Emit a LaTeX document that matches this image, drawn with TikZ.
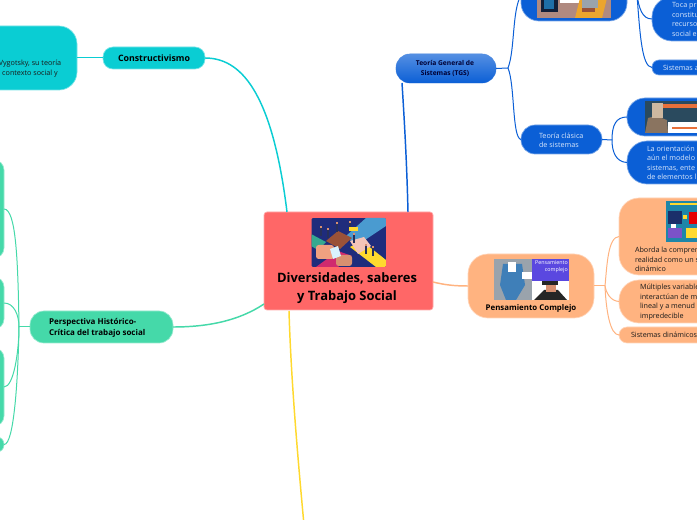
\documentclass[tikz,border=0pt]{standalone}
\usepackage{fontspec}
\setmainfont{Open Sans}
\definecolor{cred}{HTML}{FF6767}
\definecolor{cblue}{HTML}{0B5FD6}
\definecolor{cpeach}{HTML}{FFB380}
\definecolor{ccyan}{HTML}{0ACDD3}
\definecolor{cgreen}{HTML}{45D9A9}
\definecolor{cyel}{HTML}{FFD92E}
\definecolor{lblue}{HTML}{D8E6FB}
\definecolor{dtext}{HTML}{1A1A1A}
\definecolor{navy}{HTML}{1F2C7C}
\definecolor{skyb}{HTML}{4A9BD0}
\definecolor{brk}{HTML}{9A5238}
\definecolor{tealb}{HTML}{35A890}
\definecolor{salm}{HTML}{F0A080}
\definecolor{pinkl}{HTML}{F3C4B8}
\definecolor{mage}{HTML}{D02A6E}
\definecolor{dfig}{HTML}{27305A}
\definecolor{skin}{HTML}{D89070}
\definecolor{rosy}{HTML}{B08A80}
\definecolor{dkb}{HTML}{12203A}
\definecolor{midb}{HTML}{1F6FA8}
\definecolor{ora}{HTML}{EBA52E}
\definecolor{slate}{HTML}{2A4A5E}
\definecolor{sep}{HTML}{8A7460}
\definecolor{sepl}{HTML}{CDB8A0}
\definecolor{oran}{HTML}{E8703A}
\definecolor{steel}{HTML}{9AA3AC}
\definecolor{mblue}{HTML}{3F7FB8}
\definecolor{viol}{HTML}{5A48E0}
\definecolor{teald}{HTML}{1F86A8}
\definecolor{navd}{HTML}{1B2F6A}
\definecolor{purp}{HTML}{7B52C8}
\newcommand{\bx}[7]{\node[rectangle,inner sep=0pt,outer sep=0pt,draw=#7!55!white,line width=.5pt,fill=#7,rounded corners=#6*0.75pt,
  minimum width={(#4-#2)*0.75pt},minimum height={(#5-#3)*0.75pt}] (#1) at ({(#2+#4)/2},{(#3+#5)/2}) {};}
\tikzset{
  x=0.75pt,y=-0.75pt,
  lab/.style={inner sep=0pt,outer sep=0pt,align=left,anchor=west,text=dtext,font=\fontsize{5.4}{7.1}\selectfont},
  labw/.style={lab,text=lblue},
  main/.style={line width=1.1pt},
  sub/.style={line width=.75pt},
}
\begin{document}
\begin{tikzpicture}
\useasboundingbox (0,0) rectangle (697,520);
\clip (0,0) rectangle (697,520);
\fill[white] (0,0) rectangle (697,520);
% boxes
\bx{cen}{264}{212}{433}{310}{3}{cred}
\bx{tgs}{396}{54}{496}{83}{14}{cblue}
\bx{ti}{521}{-30}{627}{21}{18}{cblue}
\bx{tr}{652}{-3}{780}{41}{20}{cblue}
\bx{sa}{652}{60}{780}{75}{7}{cblue}
\bx{tc}{521}{125}{602}{154}{14}{cblue}
\bx{du}{627}{98}{780}{136}{18}{cblue}
\bx{lo}{627}{141}{780}{184}{20}{cblue}
\bx{pc}{468}{254}{594}{318}{20}{cpeach}
\bx{ab}{619}{198}{780}{275}{20}{cpeach}
\bx{mu}{619}{280}{780}{323}{20}{cpeach}
\bx{sd}{619}{327}{780}{343}{8}{cpeach}
\bx{con}{103}{47}{205}{69}{10}{ccyan}
\bx{vy}{-60}{26}{77}{90}{18}{ccyan}
\bx{per}{30}{311}{173}{343}{14}{cgreen}
\bx{g1}{-60}{160}{4}{258}{10}{cgreen}
\bx{g2}{-60}{277}{4}{329}{10}{cgreen}
\bx{g3}{-60}{348}{4}{426}{10}{cgreen}
\bx{g4}{-60}{437}{4}{452}{7}{cgreen}
\shade[top color=cblue!70!white,bottom color=cblue,rounded corners=10.5pt] (396,54) rectangle (496,83);
% fork points and free ends
\coordinate (fa) at (508,68);
\coordinate (fb) at (637,-5);
\coordinate (fc) at (612,140);
\coordinate (fd) at (605,286);
\coordinate (fe) at (19,327);
\coordinate (ye) at (304,525);
% connectors
\draw[cblue,main] (402,83) .. controls (405,130) and (407,170) .. (408,212);
\draw[cblue,sub] (tgs.east) -- (fa);
\draw[cblue,sub] (fa) .. controls (515,50) and (512,10) .. (ti.west);
\draw[cblue,sub] (fa) .. controls (515,85) and (512,138) .. (tc.west);
\draw[cblue,sub] (fb) .. controls (639,8) and (642,19) .. (tr.west);
\draw[cblue,sub] (fb) .. controls (640,35) and (642,67) .. (sa.west);
\draw[cblue,sub] (tc.east) -- (fc);
\draw[cblue,sub] (fc) .. controls (612,125) and (616,117) .. (du.west);
\draw[cblue,sub] (fc) .. controls (612,152) and (616,162) .. (lo.west);
\draw[cpeach,main] (433,282) .. controls (445,285) and (455,286) .. (pc.west);
\draw[cpeach,sub] (pc.east) -- (fd);
\draw[cpeach,sub] (fd) .. controls (607,265) and (608,237) .. (ab.west);
\draw[cpeach,sub] (fd) .. controls (606,292) and (610,301) .. (mu.west);
\draw[cpeach,sub] (fd) .. controls (606,310) and (610,335) .. (sd.west);
\draw[ccyan,main] (con.east) .. controls (240,58) and (272,90) .. (287,212);
\draw[ccyan,sub] (vy.east |- con.west) -- (con.west);
\draw[cgreen,main] (per.east) .. controls (210,327) and (240,320) .. (264,304);
\draw[cgreen,sub] (per.west) -- (fe);
\draw[cgreen,sub] (fe) .. controls (18,260) and (16,209) .. (g1.east);
\draw[cgreen,sub] (fe) .. controls (19,315) and (14,303) .. (g2.east);
\draw[cgreen,sub] (fe) .. controls (19,350) and (14,387) .. (g3.east);
\draw[cgreen,sub] (fe) .. controls (18,380) and (14,445) .. (g4.east);
\draw[cyel,main] (289,311) .. controls (291,380) and (298,460) .. (ye);
% central picture
\begin{scope}
\clip[rounded corners=1pt] (311.5,218) rectangle (386,267);
\fill[navy] (311,218) rectangle (386,267);
\fill[skyb] (366,218) -- (386,218) -- (386,226) -- (356,246) -- (346,236) -- cycle;
\fill[brk] (326,241) -- (338,231) -- (352,238) -- (340,249) -- cycle;
\fill[cyel] (350,247) -- (362,241) -- (386,260) -- (386,267) -- (376,267) -- cycle;
\fill[tealb] (311,234) -- (326,242) -- (318,250) -- (311,246) -- cycle;
\fill[pinkl] (350,241) -- (364,237) -- (371,246) -- (358,254) -- cycle;
\fill[mage] (316,267) -- (338,251) -- (352,256) -- (338,267) -- cycle;
\fill[salm,rounded corners=2pt] (316,245) rectangle (334,259);
\fill[skin,rounded corners=2pt] (336,255) rectangle (352,266);
\fill[white!85!cyan] (330,249) -- (338,246) -- (341,256) -- (333,259) -- cycle;
\foreach \p in {(321,231),(328,233),(337,227),(350,226),(354,238),(366,249),(373,251)}{
  \fill[dfig] \p ++(-1.2,-3) rectangle ++(2.4,8);
  \fill[skin] \p ++(-.9,-5) rectangle ++(1.8,2);}
\fill[cyel] (349,227) rectangle (358,231);
\end{scope}
% top picture
\begin{scope}
\clip (537,-10) rectangle (611,18);
\fill[rosy] (537,-10) rectangle (611,18);
\fill[dkb] (541,-10) rectangle (558,12);
\fill[midb] (544,-10) rectangle (554,9);
\fill[white] (560,-10) rectangle (590,3);
\fill[ora] (575,18) -- (602,18) -- (609,-10) -- (582,-10) -- cycle;
\fill[steel] (582,0) rectangle (598,8);
\fill[brk] (582,8) rectangle (595,12);
\end{scope}
% Durkheim picture
\begin{scope}
\clip (645,101) rectangle (697,133);
\fill[slate] (645,101) rectangle (697,133);
\fill[white] (668,122) rectangle (697,133);
\fill[oran] (663,104) rectangle (697,108);
\fill[sep] (645,133) -- (648,118) -- (656,116) -- (667,120) -- (668,133) -- cycle;
\fill[sepl] (652,103) rectangle (663,118);
\fill[oran] (672,127) rectangle (697,129);
\end{scope}
% Pensamiento picture
\begin{scope}
\clip (494,259) rectangle (569,300);
\fill[steel] (494,259) rectangle (532,300);
\fill[mblue] (503,264) -- (522,264) -- (525,285) -- (516,300) -- (506,300) -- (500,285) -- cycle;
\fill[white] (508,262) rectangle (516,272);
\fill[white] (522,272) rectangle (532,279);
\fill[viol] (532,259) rectangle (569,281);
\fill[white] (532,281) rectangle (569,300);
\fill[black!85] (534,300) -- (544,290) -- (558,290) -- (567,300) -- cycle;
\fill[skin] (546,284) rectangle (556,292);
\fill[black!85] (542,281) rectangle (558,285);
\node[inner sep=0pt,text=white,align=right,anchor=north east,font=\fontsize{4}{5.2}\selectfont] (pcimg) at (568,260) {Pensamiento\\complejo};
\end{scope}
% Aborda picture
\begin{scope}
\clip (666,201) rectangle (697,242);
\fill[teald] (666,201) rectangle (697,242);
\fill[navd] (668,211) rectangle (682,224);
\fill[red!90!black] (689,212) rectangle (697,224);
\fill[purp] (668,228) rectangle (682,238);
\fill[cyel] (686,228) rectangle (697,238);
\fill[white] (671,224) rectangle (676,228);
\fill[cyel] (683,215) rectangle (687,219);
\fill[cyel] (670,203) rectangle (697,205);
\end{scope}
% labels
\node[lab,anchor=center,align=center,text=black,font=\fontsize{9.7}{13.4}\bfseries\selectfont] (tcen) at (347,288) {Diversidades, saberes\\y Trabajo Social};
\node[lab,anchor=center,align=center,text=black!80!blue,font=\fontsize{5}{6.9}\bfseries\selectfont] (ttgs) at (445,68.5) {Teoría General de\\Sistemas (TGS)};
\node[labw] (ttr) at (672,19.5) {Toca pr\\constitu\\recurso\\social e};
\node[labw] (tsa) at (663,67.5) {Sistemas a};
\node[labw] (ttc) at (539,140.5) {Teoría clásica\\de sistemas};
\node[labw] (tlo) at (647,163) {La orientación\\aún el modelo\\sistemas, ente\\de elementos l};
\node[lab,anchor=center,text=black,font=\fontsize{5.9}{7}\bfseries\selectfont] (tpc) at (531,308) {Pensamiento Complejo};
\node[lab] (tab) at (635,259.5) {Aborda la compren\\realidad como un s\\dinámico};
\node[lab] (tmu) at (640,302) {Múltiples variable\\interactúan de m\\lineal y a menud\\impredecible};
\node[lab] (tsd) at (631,335) {Sistemas dinámicos};
\node[lab,anchor=center,text=black,font=\fontsize{6.6}{8}\bfseries\selectfont] (tcon) at (154,58.5) {Constructivismo};
\node[lab,anchor=center,align=center] (tvy) at (30,68.5) {Vygotsky, su teoría\\contexto social y};
\node[lab,text=black,font=\fontsize{6}{8.2}\bfseries\selectfont] (tper) at (49,327.5) {Perspectiva Histórico-\\Crítica del trabajo social};
\end{tikzpicture}
\end{document}
